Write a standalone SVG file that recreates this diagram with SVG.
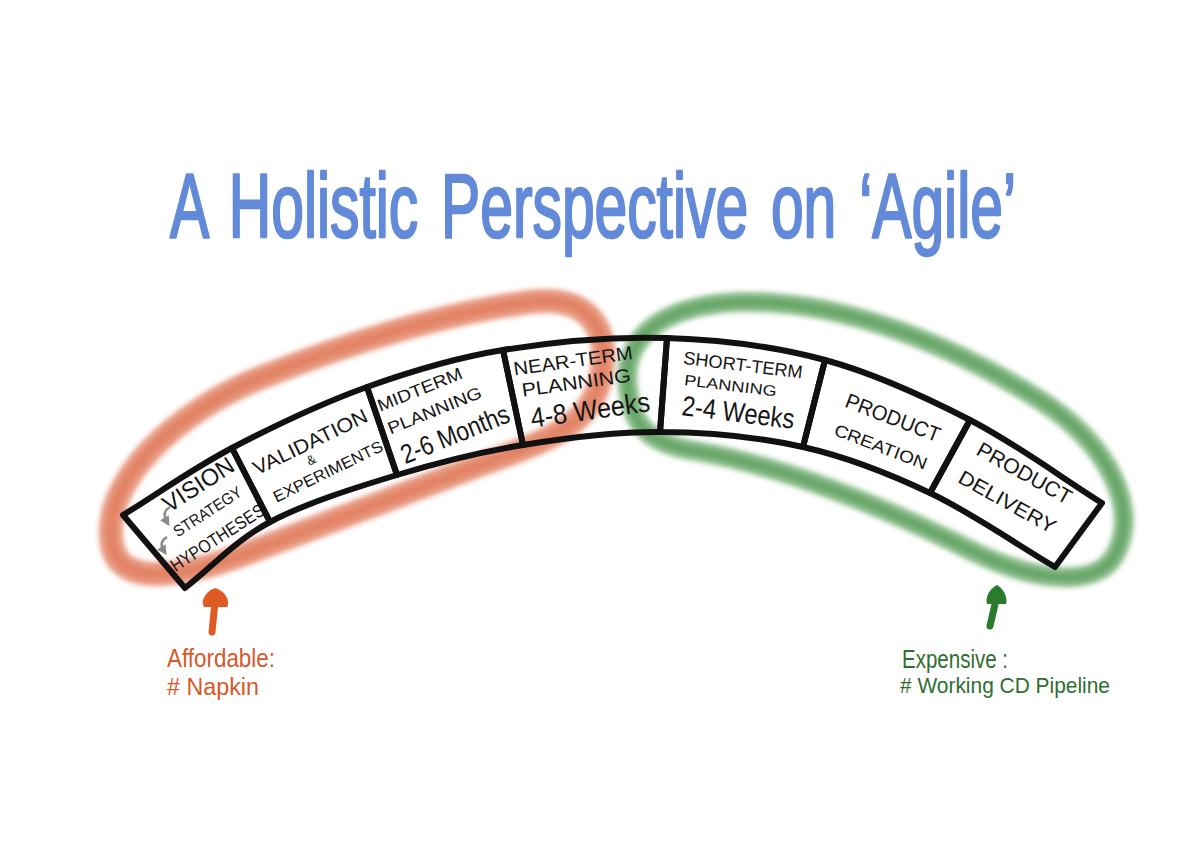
<svg xmlns="http://www.w3.org/2000/svg" width="1200" height="856" viewBox="0 0 1200 856">
<defs>
<filter id="soft" x="-10%" y="-10%" width="120%" height="120%"><feGaussianBlur stdDeviation="2.5"/></filter>
<marker id="gArr" viewBox="0 0 10 10" refX="5" refY="5" markerWidth="4" markerHeight="4" orient="auto"><path d="M0,0 L10,5 L0,10 Z" fill="#8a8a8a"/></marker>
</defs>
<style>
.cell{fill:none;stroke:#111;stroke-width:6;stroke-linejoin:round;stroke-linecap:round}
.lbl{font-family:'Liberation Sans','DejaVu Sans',sans-serif;fill:#151515;text-anchor:middle}
.loopO{fill:none;stroke:#e4876a;stroke-width:24;opacity:.85;filter:url(#soft)}
.loopO2{fill:none;stroke:#dc6a45;stroke-width:10;opacity:.45;filter:url(#soft)}
.loopG{fill:none;stroke:#74b074;stroke-width:20;opacity:.85;filter:url(#soft)}
.loopG2{fill:none;stroke:#3f8a3f;stroke-width:8;opacity:.45;filter:url(#soft)}
.hand{font-family:'Liberation Sans','DejaVu Sans',sans-serif}
</style>
<rect width="1200" height="856" fill="#fff"/>

<text id="title" transform="translate(170,237) scale(0.653,1)" x="0" y="0" class="hand" font-size="90" word-spacing="10" fill="#628ad8" stroke="#628ad8" stroke-width="2.5" stroke-linejoin="round">A Holistic Perspective on ‘Agile’</text>

<g id="loops">
<g id="loop-affordable">
<path class="loopO" d="M112,545 C100,480 180,410 260,378 C350,342 450,312 530,302 C590,295 612,330 600,380 C590,425 550,440 480,465 C400,495 320,525 250,552 C190,575 120,590 112,545 Z"/>
<path class="loopO2" d="M112,545 C100,480 180,410 260,378 C350,342 450,312 530,302 C590,295 612,330 600,380 C590,425 550,440 480,465 C400,495 320,525 250,552 C190,575 120,590 112,545 Z"/>
</g>
<g id="loop-expensive">
<path class="loopG" d="M630,400 C615,340 660,305 740,302 C850,300 960,350 1040,400 C1110,445 1140,510 1115,555 C1095,590 1030,580 970,550 C880,505 780,465 690,450 C650,443 635,425 630,400 Z"/>
<path class="loopG2" d="M630,400 C615,340 660,305 740,302 C850,300 960,350 1040,400 C1110,445 1140,510 1115,555 C1095,590 1030,580 970,550 C880,505 780,465 690,450 C650,443 635,425 630,400 Z"/>
</g>
</g>

<g id="cell-vision">
<path class="cell" d="M123,515 C159,493 191.3,469.3 232,448 L270,522 C234.7,540.8 213.3,566 185,588 Z"/>
<g transform="translate(205,515) rotate(-33)">
<text class="lbl" x="11" y="-21" font-size="24" textLength="80" lengthAdjust="spacingAndGlyphs">VISION</text>
<text class="lbl" x="4" y="4" font-size="16" textLength="78" lengthAdjust="spacingAndGlyphs">STRATEGY</text>
<text class="lbl" x="-2" y="32" font-size="18" textLength="108" lengthAdjust="spacingAndGlyphs">HYPOTHESES</text>
</g>
<path d="M170,507 Q161,512 167,522" fill="none" stroke="#8a8a8a" stroke-width="2.5" marker-end="url(#gArr)"/>
<path d="M167,537 Q158,542 164,551" fill="none" stroke="#8a8a8a" stroke-width="2.5" marker-end="url(#gArr)"/>
</g>

<g id="cell-validation">
<path class="cell" d="M232,448 C272.7,426.7 321.8,403.3 367,387 L397,475 C354.8,487.8 305.3,503.2 270,522 Z"/>
<g transform="translate(318,458) rotate(-26)">
<text class="lbl" x="0" y="-11" font-size="20" textLength="125" lengthAdjust="spacingAndGlyphs">VALIDATION</text>
<text class="lbl" x="-7" y="3" font-size="13">&amp;</text>
<text class="lbl" x="3" y="22" font-size="16" textLength="120" lengthAdjust="spacingAndGlyphs">EXPERIMENTS</text>
</g>
</g>

<g id="cell-midterm">
<path class="cell" d="M367,387 C412.2,370.7 453,358.2 503,350 L523,445 C479.2,452.2 439.2,462.2 397,475 Z"/>
<g transform="translate(445,420) rotate(-22)">
<text class="lbl" x="-12" y="-32" font-size="17" textLength="90" lengthAdjust="spacingAndGlyphs">MIDTERM</text>
<text class="lbl" x="-6" y="-7" font-size="17" textLength="100" lengthAdjust="spacingAndGlyphs">PLANNING</text>
<text class="lbl" x="4" y="26" font-size="27" textLength="115" lengthAdjust="spacingAndGlyphs">2-6 Months</text>
</g>
</g>

<g id="cell-nearterm">
<path class="cell" d="M503,350 C553,341.8 613.3,336.3 667,338 L660,432 C613.3,431.7 566.8,437.8 523,445 Z"/>
<g transform="translate(585,395) rotate(-8)">
<text class="lbl" x="-7" y="-29" font-size="19" textLength="120" lengthAdjust="spacingAndGlyphs">NEAR-TERM</text>
<text class="lbl" x="-7" y="-7" font-size="19" textLength="110" lengthAdjust="spacingAndGlyphs">PLANNING</text>
<text class="lbl" x="3" y="25" font-size="28" textLength="120" lengthAdjust="spacingAndGlyphs">4-8 Weeks</text>
</g>
</g>

<g id="cell-shortterm">
<path class="cell" d="M667,338 C720.7,339.7 774.5,346.3 825,360 L803,447 C758,436.8 706.7,432.3 660,432 Z"/>
<g transform="translate(740,390) rotate(7)">
<text class="lbl" x="0" y="-19" font-size="18" textLength="120" lengthAdjust="spacingAndGlyphs">SHORT-TERM</text>
<text class="lbl" x="-10" y="2" font-size="15" textLength="93" lengthAdjust="spacingAndGlyphs">PLANNING</text>
<text class="lbl" x="1" y="32" font-size="28" textLength="113" lengthAdjust="spacingAndGlyphs">2-4 Weeks</text>
</g>
</g>

<g id="cell-creation">
<path class="cell" d="M825,360 C875.5,373.7 923.8,396.2 970,420 L930,493 C888,473 848,457.2 803,447 Z"/>
<g transform="translate(885,430) rotate(21)">
<text class="lbl" x="3" y="-7" font-size="21" textLength="100" lengthAdjust="spacingAndGlyphs">PRODUCT</text>
<text class="lbl" x="2" y="23" font-size="17" textLength="98" lengthAdjust="spacingAndGlyphs">CREATION</text>
</g>
</g>

<g id="cell-delivery">
<path class="cell" d="M970,420 C1016.2,443.8 1058,475.3 1102,503 L1055,567 C1013.3,542.3 972,513 930,493 Z"/>
<g transform="translate(1015,490) rotate(29)">
<text class="lbl" x="0" y="-12" font-size="21" textLength="105" lengthAdjust="spacingAndGlyphs">PRODUCT</text>
<text class="lbl" x="-1" y="21" font-size="20" textLength="108" lengthAdjust="spacingAndGlyphs">DELIVERY</text>
</g>
</g>

<g id="arrows">
<g id="arrow-affordable">
<path d="M212,632 L215,602" stroke="#e05a25" stroke-width="7" stroke-linecap="round" fill="none"/>
<path d="M215,588 C206,591 200,601 204,607 L227,607 C231,601 224,590 215,588 Z" fill="#e05a25"/>
</g>
<g id="arrow-expensive">
<path d="M990,626 L996,600" stroke="#2c7a2c" stroke-width="7" stroke-linecap="round" fill="none"/>
<path d="M997,585 C989,589 985,598 987,604 L1006,604 C1008,597 1003,588 997,585 Z" fill="#2c7a2c"/>
</g>
</g>

<g id="label-affordable" class="hand" fill="#d9582a">
<text x="167" y="667" font-size="25" textLength="108" lengthAdjust="spacingAndGlyphs">Affordable:</text>
<text x="167" y="695" font-size="23" textLength="92" lengthAdjust="spacingAndGlyphs"># Napkin</text>
</g>
<g id="label-expensive" class="hand" fill="#2f6e2f">
<text x="902" y="668" font-size="25" textLength="106" lengthAdjust="spacingAndGlyphs">Expensive :</text>
<text x="900" y="693" font-size="22" textLength="210" lengthAdjust="spacingAndGlyphs"># Working CD Pipeline</text>
</g>
</svg>
